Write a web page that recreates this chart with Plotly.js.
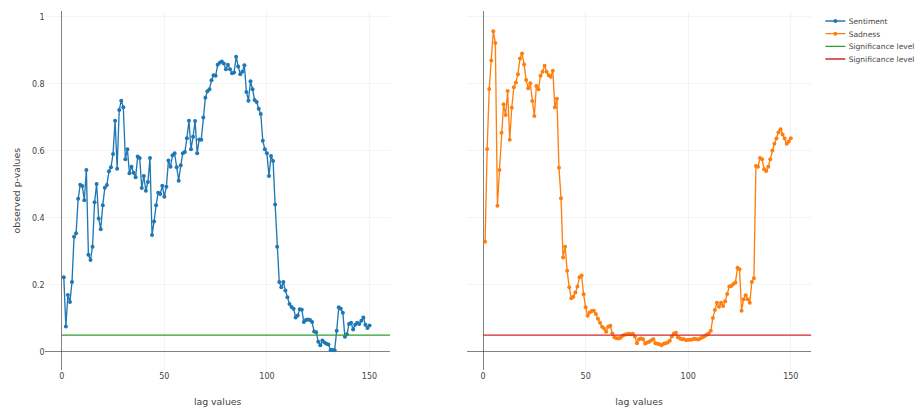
<!DOCTYPE html>
<html>
<head>
<meta charset="utf-8">
<script src="https://cdn.plot.ly/plotly-3.0.1.min.js"></script>
<style>
  html, body { margin: 0; padding: 0; background: #fff; overflow: hidden; }
  #wrap { width: 921px; height: 409px; overflow: hidden; }
  /* drawn at 1.5x and shrunk to the page size */
  #chart { width: 1382px; height: 614px; transform: scale(0.66667); transform-origin: 0 0; }
</style>
</head>
<body>
<div id="wrap"><div id="chart"></div></div>
<script>
// p-values per lag (lags 1..150)
const sentiment = [
  0.223, 0.076, 0.170, 0.149, 0.209, 0.344, 0.354, 0.457, 0.499, 0.495,
  0.453, 0.543, 0.290, 0.274, 0.314, 0.447, 0.501, 0.398, 0.366, 0.438,
  0.490, 0.498, 0.539, 0.551, 0.591, 0.690, 0.547, 0.722, 0.750, 0.730,
  0.575, 0.605, 0.533, 0.553, 0.535, 0.521, 0.583, 0.579, 0.489, 0.525,
  0.481, 0.507, 0.579, 0.349, 0.389, 0.438, 0.475, 0.471, 0.496, 0.463,
  0.493, 0.571, 0.553, 0.587, 0.593, 0.551, 0.511, 0.557, 0.593, 0.597,
  0.638, 0.690, 0.605, 0.642, 0.689, 0.593, 0.634, 0.633, 0.700, 0.759,
  0.778, 0.784, 0.811, 0.826, 0.824, 0.857, 0.863, 0.867, 0.861, 0.844,
  0.857, 0.844, 0.832, 0.834, 0.881, 0.852, 0.829, 0.836, 0.856, 0.776,
  0.750, 0.808, 0.784, 0.752, 0.746, 0.726, 0.710, 0.630, 0.605, 0.593,
  0.525, 0.585, 0.570, 0.440, 0.314, 0.209, 0.193, 0.209, 0.183, 0.163,
  0.143, 0.134, 0.129, 0.103, 0.109, 0.127, 0.126, 0.089, 0.095, 0.097,
  0.095, 0.089, 0.061, 0.059, 0.030, 0.020, 0.034, 0.028, 0.024, 0.022,
  0.006, 0.006, 0.005, 0.063, 0.133, 0.129, 0.117, 0.045, 0.053, 0.083,
  0.087, 0.067, 0.081, 0.087, 0.083, 0.093, 0.103, 0.081, 0.071, 0.079
];

const sadness = [
  0.329, 0.606, 0.785, 0.870, 0.957, 0.922, 0.436, 0.543, 0.654, 0.739,
  0.707, 0.779, 0.633, 0.729, 0.790, 0.804, 0.829, 0.876, 0.891, 0.858,
  0.812, 0.787, 0.802, 0.749, 0.704, 0.794, 0.784, 0.824, 0.836, 0.854,
  0.836, 0.826, 0.821, 0.839, 0.730, 0.756, 0.550, 0.459, 0.282, 0.314,
  0.242, 0.193, 0.160, 0.165, 0.177, 0.195, 0.223, 0.228, 0.172, 0.133,
  0.108, 0.118, 0.122, 0.123, 0.113, 0.099, 0.087, 0.075, 0.070, 0.060,
  0.075, 0.078, 0.055, 0.044, 0.041, 0.040, 0.042, 0.048, 0.051, 0.053,
  0.054, 0.053, 0.054, 0.046, 0.026, 0.038, 0.040, 0.038, 0.025, 0.028,
  0.030, 0.035, 0.038, 0.026, 0.024, 0.023, 0.020, 0.024, 0.026, 0.028,
  0.033, 0.046, 0.055, 0.057, 0.044, 0.040, 0.038, 0.038, 0.035, 0.036,
  0.036, 0.037, 0.039, 0.038, 0.037, 0.041, 0.044, 0.047, 0.051, 0.055,
  0.063, 0.101, 0.125, 0.147, 0.135, 0.147, 0.137, 0.151, 0.173, 0.195,
  0.197, 0.203, 0.207, 0.251, 0.247, 0.123, 0.157, 0.169, 0.157, 0.147,
  0.209, 0.220, 0.555, 0.553, 0.579, 0.575, 0.545, 0.540, 0.553, 0.575,
  0.601, 0.621, 0.637, 0.656, 0.665, 0.649, 0.637, 0.621, 0.628, 0.638
];

const lags = sentiment.map((_, i) => i + 1);

// significance threshold, drawn across each panel
const significance = 0.05;
const sigLags = [0, 160];
const sigValues = [significance, significance];

const traces = [
  { x: lags, y: sentiment, name: 'Sentiment', type: 'scatter', mode: 'lines+markers',
    xaxis: 'x', yaxis: 'y', line: { color: '#1f77b4' }, marker: { color: '#1f77b4' } },
  { x: lags, y: sadness, name: 'Sadness', type: 'scatter', mode: 'lines+markers',
    xaxis: 'x2', yaxis: 'y', line: { color: '#ff7f0e' }, marker: { color: '#ff7f0e' } },
  { x: sigLags, y: sigValues, name: 'Significance level', type: 'scatter', mode: 'lines',
    xaxis: 'x', yaxis: 'y', line: { color: '#2ca02c' } },
  { x: sigLags, y: sigValues, name: 'Significance level', type: 'scatter', mode: 'lines',
    xaxis: 'x2', yaxis: 'y', line: { color: '#d62728' } }
];

const layout = {
  width: 1382,
  height: 614,
  margin: { l: 68, r: 165, t: 17, b: 59, autoexpand: false },
  font: { family: '"DejaVu Sans", Verdana, sans-serif', color: '#444' },
  paper_bgcolor: '#fff',
  plot_bgcolor: '#fff',
  showlegend: true,
  legend: { x: 1.014, y: 1, xanchor: 'left', yanchor: 'top', font: { size: 11.3 } },
  xaxis: { domain: [0, 0.45], anchor: 'y', range: [-8, 160], title: { text: 'lag values' } },
  xaxis2: { domain: [0.55, 1], anchor: 'y', range: [-8, 160], title: { text: 'lag values' } },
  yaxis: { anchor: 'x', range: [-0.054, 1.0166], title: { text: 'observed p-values' } }
};

Plotly.newPlot('chart', traces, layout, { displayModeBar: false, staticPlot: true });
</script>
</body>
</html>
